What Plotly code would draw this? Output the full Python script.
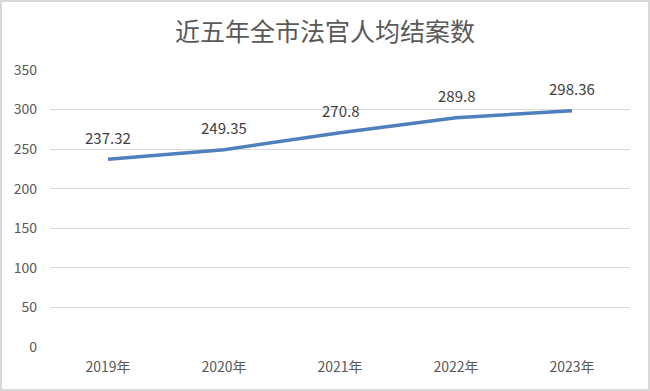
import plotly.graph_objects as go

years = ["2019年", "2020年", "2021年", "2022年", "2023年"]
values = [237.32, 249.35, 270.8, 289.8, 298.36]
labels = ["237.32", "249.35", "270.8", "289.8", "298.36"]
title = "近五年全市法官人均结案数"

W, H = 650, 391
ml, mr, mt, mb = 50, 20, 70, 44
pw, ph = W - ml - mr, H - mt - mb
FONT = "Noto Sans CJK SC, sans-serif"

fig = go.Figure()
fig.add_trace(go.Scatter(
    x=years, y=values, mode="lines",
    line=dict(color="#4f7fbd", width=3.5),
    hoverinfo="skip",
))

for yr, v, lab in zip(years, values, labels):
    fig.add_annotation(x=yr, y=v, text=lab, showarrow=False, yshift=22,
                       font=dict(family=FONT, size=15, color="#404040"))

fig.update_layout(
    width=W, height=H,
    margin=dict(l=ml, r=mr, t=mt, b=mb),
    paper_bgcolor="white", plot_bgcolor="white",
    showlegend=False,
    title=dict(text=title, x=0.5, xanchor="center", y=1 - 32 / H, yanchor="middle",
               font=dict(family=FONT, size=25, color="#595959")),
    xaxis=dict(range=[-0.5, 4.5], showgrid=False, showline=False, zeroline=False, ticks="",
               ticklabelstandoff=10,
               tickfont=dict(family=FONT, size=14, color="#595959")),
    yaxis=dict(range=[0, 350], tickvals=[0, 50, 100, 150, 200, 250, 300, 350],
               showgrid=True, gridcolor="#d9d9d9", gridwidth=1, zeroline=False,
               showline=False, ticks="", ticklabelstandoff=12,
               tickfont=dict(family=FONT, size=14, color="#595959")),
    shapes=[dict(type="rect", xref="paper", yref="paper",
                 x0=-ml / pw + 1 / pw, x1=1 + mr / pw - 1 / pw,
                 y0=-mb / ph + 1 / ph, y1=1 + mt / ph - 1 / ph,
                 line=dict(color="#d9d9d9", width=2), layer="below")],
)

fig.write_html("out.html", config={"displayModeBar": False},
               post_script="document.body.style.margin='0';document.body.style.overflow='hidden';")
